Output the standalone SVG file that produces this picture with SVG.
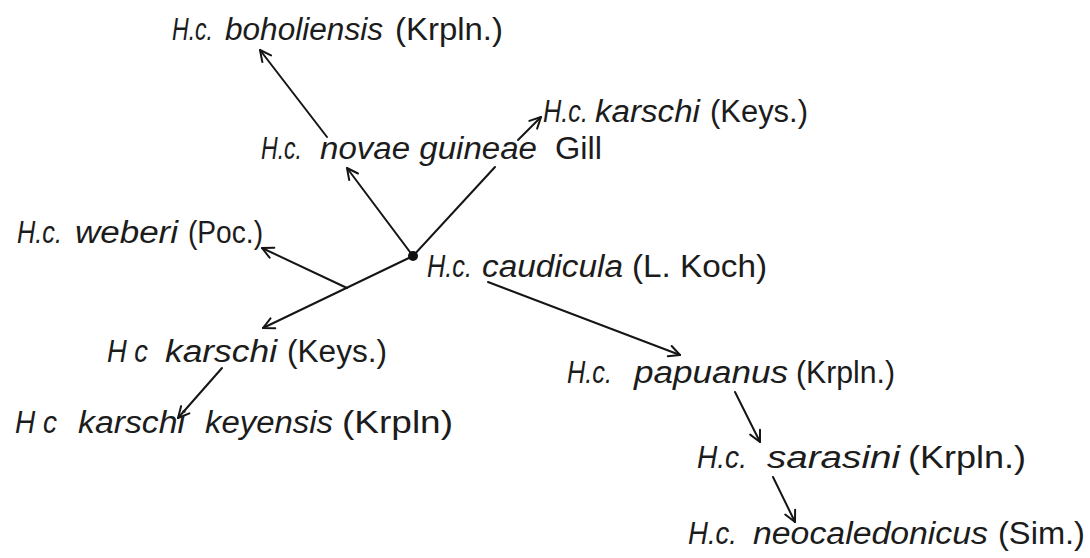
<svg xmlns="http://www.w3.org/2000/svg" width="1090" height="558" viewBox="0 0 1090 558">
<defs>
<style>
text{font-family:"Liberation Sans","DejaVu Sans",sans-serif;font-size:31px;fill:#1c1c1c}
.i{font-style:italic}
.c{fill:none;stroke:#151515;stroke-width:2;stroke-linecap:round}
</style>
<marker id="ah" viewBox="0 0 14 14" refX="13" refY="7" markerWidth="14" markerHeight="14" markerUnits="userSpaceOnUse" orient="auto">
<path d="M2,1.5 L13,7 L2,12.5" fill="none" stroke="#151515" stroke-width="2" stroke-linecap="round" stroke-linejoin="round"/>
</marker>
</defs>
<rect width="1090" height="558" fill="#ffffff"/>
<g id="connectors">
<line class="c" x1="413" y1="256" x2="263" y2="328" marker-end="url(#ah)"/>
<line class="c" x1="347" y1="288" x2="262" y2="248" marker-end="url(#ah)"/>
<line class="c" x1="413" y1="256" x2="347" y2="168" marker-end="url(#ah)"/>
<line class="c" x1="413" y1="256" x2="495" y2="167"/>
<line class="c" x1="518" y1="140" x2="541" y2="117" marker-end="url(#ah)"/>
<line class="c" x1="327" y1="137" x2="260" y2="50" marker-end="url(#ah)"/>
<line class="c" x1="222" y1="368" x2="178" y2="418" marker-end="url(#ah)"/>
<line class="c" x1="488" y1="282" x2="680" y2="355" marker-end="url(#ah)"/>
<line class="c" x1="735" y1="392" x2="760" y2="442" marker-end="url(#ah)"/>
<line class="c" x1="773" y1="477" x2="795" y2="522" marker-end="url(#ah)"/>
<circle cx="413" cy="256" r="5" fill="#111"/>
</g>
<g id="boholiensis"><text y="40"><tspan class="i" x="172" textLength="41" lengthAdjust="spacingAndGlyphs">H.c.</tspan><tspan class="i" x="225" textLength="158" lengthAdjust="spacingAndGlyphs">boholiensis</tspan><tspan x="395" textLength="108" lengthAdjust="spacingAndGlyphs">(Krpln.)</tspan></text></g>
<g id="novae-guineae"><text y="159"><tspan class="i" x="261" textLength="41" lengthAdjust="spacingAndGlyphs">H.c.</tspan><tspan class="i" x="320" textLength="217" lengthAdjust="spacingAndGlyphs">novae guineae</tspan><tspan x="555" textLength="47" lengthAdjust="spacingAndGlyphs">Gill</tspan></text></g>
<g id="karschi-upper"><text y="122"><tspan class="i" x="543" textLength="45" lengthAdjust="spacingAndGlyphs">H.c.</tspan><tspan class="i" x="595" textLength="105" lengthAdjust="spacingAndGlyphs">karschi</tspan><tspan x="710" textLength="98" lengthAdjust="spacingAndGlyphs">(Keys.)</tspan></text></g>
<g id="weberi"><text y="243"><tspan class="i" x="17" textLength="45" lengthAdjust="spacingAndGlyphs">H.c.</tspan><tspan class="i" x="75" textLength="103" lengthAdjust="spacingAndGlyphs">weberi</tspan><tspan x="188" textLength="75" lengthAdjust="spacingAndGlyphs">(Poc.)</tspan></text></g>
<g id="caudicula"><text y="277"><tspan class="i" x="427" textLength="45" lengthAdjust="spacingAndGlyphs">H.c.</tspan><tspan class="i" x="482" textLength="141" lengthAdjust="spacingAndGlyphs">caudicula</tspan><tspan x="632" textLength="135" lengthAdjust="spacingAndGlyphs">(L. Koch)</tspan></text></g>
<g id="karschi-lower"><text y="362"><tspan class="i" x="107" textLength="41" lengthAdjust="spacingAndGlyphs">H c</tspan><tspan class="i" x="165" textLength="112" lengthAdjust="spacingAndGlyphs">karschi</tspan><tspan x="287" textLength="100" lengthAdjust="spacingAndGlyphs">(Keys.)</tspan></text></g>
<g id="keyensis"><text y="433"><tspan class="i" x="15" textLength="42" lengthAdjust="spacingAndGlyphs">H c</tspan><tspan class="i" x="78" textLength="107" lengthAdjust="spacingAndGlyphs">karschi</tspan><tspan class="i" x="205" textLength="128" lengthAdjust="spacingAndGlyphs">keyensis</tspan><tspan x="342" textLength="111" lengthAdjust="spacingAndGlyphs">(Krpln)</tspan></text></g>
<g id="papuanus"><text y="383"><tspan class="i" x="567" textLength="45" lengthAdjust="spacingAndGlyphs">H.c.</tspan><tspan class="i" x="634" textLength="154" lengthAdjust="spacingAndGlyphs">papuanus</tspan><tspan x="796" textLength="99" lengthAdjust="spacingAndGlyphs">(Krpln.)</tspan></text></g>
<g id="sarasini"><text y="468"><tspan class="i" x="697" textLength="50" lengthAdjust="spacingAndGlyphs">H.c.</tspan><tspan class="i" x="767" textLength="133" lengthAdjust="spacingAndGlyphs">sarasini</tspan><tspan x="908" textLength="118" lengthAdjust="spacingAndGlyphs">(Krpln.)</tspan></text></g>
<g id="neocaledonicus"><text y="544"><tspan class="i" x="688" textLength="49" lengthAdjust="spacingAndGlyphs">H.c.</tspan><tspan class="i" x="753" textLength="235" lengthAdjust="spacingAndGlyphs">neocaledonicus</tspan><tspan x="998" textLength="87" lengthAdjust="spacingAndGlyphs">(Sim.)</tspan></text></g>
</svg>
